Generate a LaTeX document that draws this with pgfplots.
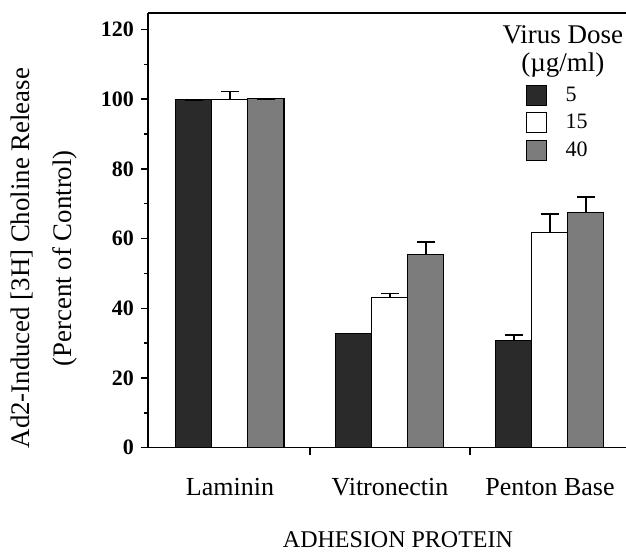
\documentclass[border=0pt]{standalone}
\usepackage{fontspec}
\setmainfont{Liberation Serif}
\usepackage{pgfplots}
\pgfplotsset{compat=1.18}
\definecolor{barblack}{HTML}{2A2A2A}
\definecolor{bargray}{HTML}{7C7C7C}
\begin{document}
\begin{tikzpicture}
\useasboundingbox (-74pt,-52.15pt) rectangle (239pt,223.85pt);
\begin{axis}[
  scale only axis, width=239pt, height=217.35pt,
  xmin=-0.5125, xmax=2.475, ymin=0, ymax=124.7,
  axis x line=box, axis y line=left, axis line style={-, line width=0.75pt},
  ybar=0pt, bar width=18pt,
  ytick={0,20,...,120}, minor ytick={10,30,...,110},
  tick align=outside, major tick length=3.5pt, minor tick length=1.8pt,
  xtick pos=bottom, ytick pos=left,
  xtick={0.5,1.5}, xticklabels={},
  extra x ticks={0,1,2}, extra x tick labels={Laminin,Vitronectin,Penton Base},
  extra x tick style={major tick length=0pt, tick label style={yshift=-12pt}},
  x tick label style={font=\fontsize{13}{15}\selectfont},
  y tick label style={font=\fontsize{11}{13}\selectfont\bfseries},
  /pgf/number format/assume math mode=true,
  tick style={line width=0.7pt, black},
  ylabel={Ad2-Induced [3H] Choline Release\\(Percent of Control)},
  ylabel style={at={(axis description cs:-0.2176,0.436)}, anchor=center, align=center, font=\fontsize{13.4}{21}\selectfont},
  xlabel={ADHESION PROTEIN},
  xlabel style={at={(axis description cs:0.523,-0.2115)}, anchor=center, font=\fontsize{12}{14}\selectfont},
  legend style={at={(rel axis cs:0.789,0.838)}, anchor=north west, draw=none, fill=none, inner sep=0pt, row sep=2pt,
    font=\fontsize{11}{13}\selectfont, cells={anchor=west},
    nodes={inner ysep=1.5pt},
    /tikz/every odd column/.append style={column sep=7.5pt}},
  legend image code/.code={\draw[#1, draw=black, line width=0.5pt] (0pt,-5pt) rectangle (10pt,5pt);},
  error bars/y dir=plus, error bars/y explicit,
  error bars/error mark options={rotate=90, mark size=4.5pt, line width=0.8pt},
  error bars/error bar style={line width=0.8pt},
]
\addplot[fill=barblack, draw=black, line width=0.5pt] coordinates {(0,99.8) +- (0,0) (1,32.8) +- (0,0) (2,30.8) +- (0,1.5)};
\addplot[fill=white, draw=black, line width=0.5pt] coordinates {(0,100) +- (0,2.2) (1,43) +- (0,1.2) (2,61.8) +- (0,5.2)};
\addplot[fill=bargray, draw=black, line width=0.5pt] coordinates {(0,100.1) +- (0,0) (1,55.5) +- (0,3.5) (2,67.5) +- (0,4.4)};
\legend{5,15,40}
\node[align=center, font=\fontsize{13.5}{14}\selectfont] at (rel axis cs:0.868,0.9125) {Virus Dose\\(µg/ml)};
\end{axis}
\end{tikzpicture}
\end{document}
